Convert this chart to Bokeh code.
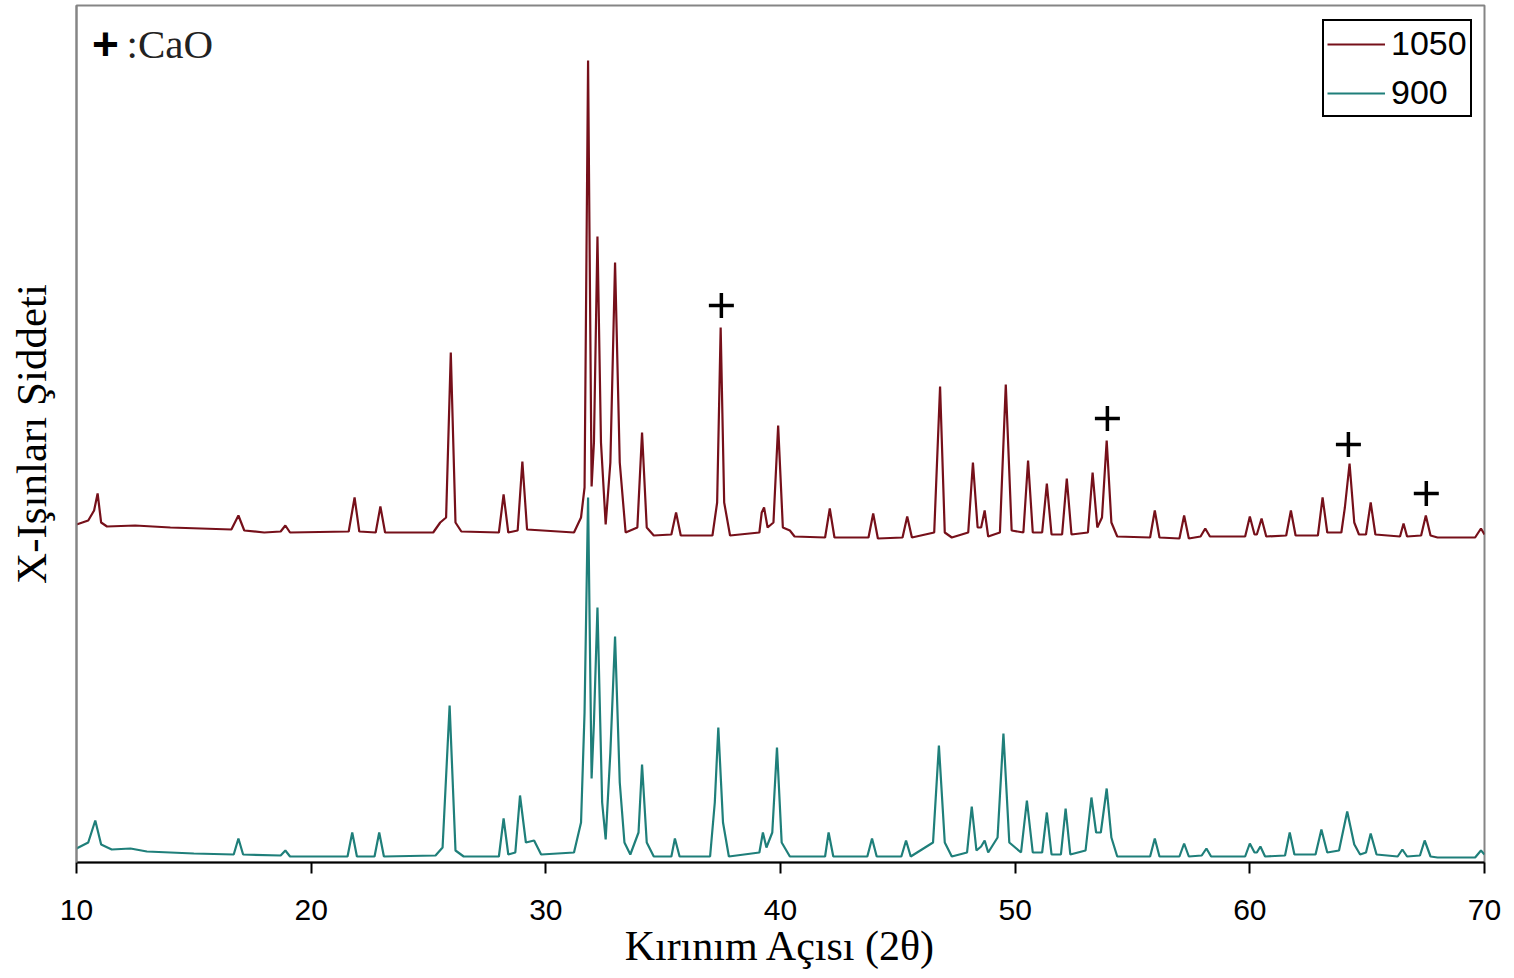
from bokeh.plotting import figure
from bokeh.models import Range1d, Label, Legend, LegendItem
from bokeh.embed import file_html
from bokeh.resources import INLINE

# 2-theta (deg) and intensity (arbitrary units)
t1050 = [10.0, 10.5, 10.75, 10.9, 11.05, 11.3, 12.5, 14.0, 16.6, 16.9, 17.15, 18.0, 18.7, 18.9, 19.1,
         21.6, 21.85, 22.05, 22.75, 22.95, 23.15, 25.2, 25.5, 25.75, 25.95, 26.15, 26.4, 28.0, 28.2, 28.4,
         28.8, 29.0, 29.2, 31.2, 31.5, 31.65, 31.8, 31.95, 32.05, 32.2, 32.35, 32.55, 32.75, 32.95, 33.15,
         33.4, 33.9, 34.1, 34.3, 34.6, 35.35, 35.55, 35.75, 37.1, 37.3, 37.45, 37.6, 37.85, 39.1, 39.2,
         39.3, 39.45, 39.7, 39.9, 40.1, 40.4, 40.6, 41.9, 42.1, 42.3, 43.75, 43.95, 44.15, 45.2, 45.4,
         45.6, 46.55, 46.8, 47.0, 47.3, 48.0, 48.2, 48.4, 48.55, 48.7, 48.85, 49.35, 49.6, 49.85, 50.35,
         50.55, 50.75, 51.15, 51.35, 51.55, 52.0, 52.2, 52.4, 53.1, 53.3, 53.5, 53.7, 53.9, 54.1, 54.35,
         55.75, 55.95, 56.15, 57.0, 57.2, 57.4, 57.9, 58.1, 58.3, 59.8, 60.0, 60.2, 60.3, 60.5, 60.7,
         61.55, 61.75, 61.95, 62.9, 63.1, 63.3, 63.9, 64.05, 64.25, 64.45, 64.65, 64.95, 65.15, 65.35,
         66.4, 66.55, 66.7, 67.3, 67.5, 67.7, 68.0, 69.6, 69.85, 70.0]
i1050 = [338, 342, 352, 369, 340, 336, 337, 335, 333, 347, 332, 330, 331, 337, 330,
         331, 365, 331, 330, 356, 330, 330, 340, 345, 510, 340, 331, 330, 368, 330,
         332, 401, 333, 330, 345, 375, 802, 376, 420, 626, 420, 338, 400, 600, 400,
         330, 335, 430, 335, 327, 328, 350, 327, 327, 360, 535, 360, 327, 330, 350,
         355, 335, 340, 437, 335, 332, 326, 325, 354, 325, 325, 349, 324, 325, 346,
         325, 330, 476, 330, 325, 330, 400, 335, 335, 352, 326, 330, 478, 332, 330,
         402, 330, 330, 379, 328, 328, 384, 328, 330, 390, 335, 345, 422, 340, 326,
         325, 352, 325, 324, 347, 324, 326, 334, 326, 326, 346, 328, 328, 344, 326,
         327, 352, 327, 327, 365, 330, 330, 355, 399, 340, 328, 328, 360, 328,
         326, 339, 326, 327, 347, 327, 325, 325, 334, 328]

t900 = [10.0, 10.5, 10.8, 11.05, 11.5, 12.3, 13.0, 15.0, 16.7, 16.9, 17.1, 18.7, 18.9, 19.1,
        21.55, 21.75, 21.95, 22.7, 22.9, 23.1, 25.3, 25.6, 25.9, 26.15, 26.5, 28.0, 28.2, 28.4,
        28.7, 28.9, 29.15, 29.5, 29.8, 31.2, 31.5, 31.65, 31.8, 31.95, 32.05, 32.2, 32.4, 32.55,
        32.75, 32.95, 33.15, 33.35, 33.6, 33.95, 34.1, 34.3, 34.6, 35.35, 35.5, 35.7, 37.0, 37.2,
        37.35, 37.55, 37.8, 39.1, 39.25, 39.4, 39.65, 39.85, 40.05, 40.4, 41.9, 42.05, 42.25, 43.7,
        43.9, 44.1, 45.15, 45.35, 45.55, 46.5, 46.75, 47.0, 47.3, 47.95, 48.15, 48.35, 48.55, 48.7,
        48.85, 49.25, 49.5, 49.75, 50.25, 50.5, 50.75, 51.15, 51.35, 51.55, 51.95, 52.15, 52.35,
        53.0, 53.25, 53.45, 53.65, 53.9, 54.1, 54.35, 55.75, 55.95, 56.15, 57.0, 57.2, 57.4, 57.95,
        58.15, 58.35, 59.8, 60.0, 60.2, 60.3, 60.45, 60.65, 61.5, 61.7, 61.9, 62.8, 63.05, 63.3,
        63.8, 64.15, 64.45, 64.7, 64.95, 65.15, 65.4, 66.3, 66.5, 66.7, 67.25, 67.45, 67.7, 68.0,
        69.6, 69.85, 70.0]
i900 = [14, 20, 42, 18, 13, 14, 11, 9, 8, 24, 8, 7, 12, 6,
        6, 30, 6, 6, 30, 6, 7, 15, 157, 12, 6, 6, 44, 8,
        10, 67, 20, 22, 8, 10, 40, 150, 365, 84, 140, 255, 60, 23,
        110, 226, 80, 20, 8, 30, 98, 20, 6, 6, 24, 6, 6, 60,
        135, 40, 6, 10, 30, 15, 30, 115, 20, 6, 6, 30, 6, 6,
        24, 6, 6, 22, 6, 20, 117, 20, 6, 10, 56, 12, 16, 22,
        10, 25, 129, 20, 10, 62, 10, 10, 50, 8, 8, 54, 8,
        12, 65, 30, 30, 74, 25, 6, 6, 24, 6, 6, 19, 6, 7,
        14, 6, 6, 19, 10, 10, 16, 6, 7, 30, 8, 8, 33, 10,
        12, 51, 18, 8, 10, 29, 8, 6, 13, 6, 7, 22, 6, 5,
        5, 12, 8]

# CaO reflection markers
cao_t = [37.48, 53.93, 64.2, 67.52]
cao_i = [557, 444, 418, 369]

series_names = ["1050", "900"]
x_ticks = [10, 20, 30, 40, 50, 60, 70]

RED = "#76101a"
TEAL = "#1f7f7a"

p = figure(width=1506, height=977, output_backend="svg", toolbar_location=None,
           x_range=Range1d(10, 70), y_range=Range1d(0, 857),
           min_border_left=76, min_border_right=22, min_border_top=5, min_border_bottom=115)
p.background_fill_color = "white"
p.border_fill_color = "white"
p.outline_line_color = "#858585"
p.outline_line_width = 2
p.xgrid.visible = False
p.ygrid.visible = False

r1 = p.line(t1050, i1050, line_color=RED, line_width=2.2)
r2 = p.line(t900, i900, line_color=TEAL, line_width=2.2)
p.scatter(cao_t, cao_i, marker="cross", size=25, line_width=3.5, line_color="black")

# x axis
xa = p.xaxis[0]
xa.ticker = x_ticks
xa.axis_line_color = "black"
xa.axis_line_width = 2
xa.major_tick_line_color = "black"
xa.major_tick_line_width = 2
xa.major_tick_out = 11
xa.major_tick_in = 0
xa.minor_tick_line_color = None
xa.major_label_text_font = "Liberation Sans"
xa.major_label_text_font_size = "30px"
xa.major_label_text_color = "black"
xa.major_label_standoff = 26
xa.axis_label = "Kırınım Açısı (2θ)"
xa.axis_label_text_font = "Liberation Serif"
xa.axis_label_text_font_size = "42px"
xa.axis_label_text_font_style = "normal"
xa.axis_label_text_color = "black"
xa.axis_label_standoff = 0

# y axis
ya = p.yaxis[0]
ya.ticker = []
ya.axis_line_color = "#858585"
ya.axis_line_width = 2
ya.major_tick_out = 0
ya.major_tick_in = 0
ya.minor_tick_line_color = None
ya.major_label_standoff = 0
ya.axis_label = "X-Işınları Şiddeti"
ya.axis_label_text_font = "Liberation Serif"
ya.axis_label_text_font_size = "43px"
ya.axis_label_text_font_style = "normal"
ya.axis_label_text_color = "black"
ya.axis_label_standoff = 22

legend = Legend(items=[LegendItem(label=series_names[0], renderers=[r1]),
                       LegendItem(label=series_names[1], renderers=[r2])],
                location=(1246, 745))
legend.margin = 0
legend.padding = 3
legend.spacing = 10
legend.border_line_color = "black"
legend.border_line_alpha = 1
legend.border_line_width = 2
legend.label_text_font = "Liberation Sans"
legend.label_text_font_size = "34px"
legend.label_text_color = "black"
legend.label_height = 38
legend.glyph_height = 38
legend.glyph_width = 58
legend.label_standoff = 6
legend.background_fill_alpha = 1
p.add_layout(legend)

p.add_layout(Label(x=29, y=819, x_units="screen", y_units="screen", text="+",
                   text_font="Liberation Sans", text_font_size="46px", text_font_style="bold",
                   text_align="center", text_baseline="middle", text_color="black"))
p.add_layout(Label(x=50, y=819, x_units="screen", y_units="screen", text=":CaO",
                   text_font="Liberation Serif", text_font_size="41px",
                   text_align="left", text_baseline="middle", text_color="#222222"))

open("out.html", "w").write(file_html(p, INLINE))
